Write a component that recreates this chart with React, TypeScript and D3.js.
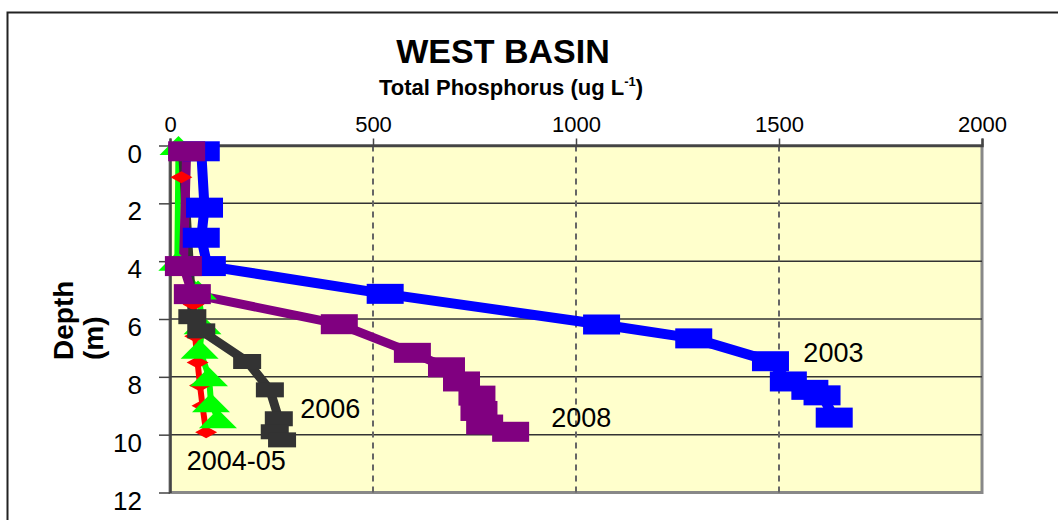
import React, { useEffect, useRef } from 'react';
import * as d3 from 'd3';

// depth (m) and total phosphorus (ug/L)
const depth2004 = [1.1, 5.5, 6.6, 7.5, 8.3, 9.0, 9.92];
const tp2004 = [28, 58, 62, 68, 74, 80, 89];

const depth2005 = [0.0, 4.0, 5.0, 6.2, 7.05, 8.0, 8.9, 9.45];
const tp2005 = [21, 18, 69, 80, 73, 96, 101, 118];

const depth2006 = [0.2, 5.92, 6.41, 7.47, 8.45, 9.45, 9.9, 10.18];
const tp2006 = [31, 55, 77, 190, 246, 268, 258, 276];

const depth2003 = [0.2, 2.15, 3.19, 4.17, 5.13, 6.19, 6.67, 7.46, 8.16, 8.45, 8.64, 9.41];
const tp2003 = [77, 85, 77, 92, 530, 1063, 1290, 1479, 1523, 1576, 1606, 1636];

const depth2008 = [0.2, 4.17, 5.14, 6.18, 7.17, 7.67, 8.16, 8.65, 9.18, 9.65, 9.9];
const tp2008 = [41, 33, 55, 417, 597, 681, 718, 756, 761, 775, 839];

const xTicks = [0, 500, 1000, 1500, 2000];
const yTicks = [0, 2, 4, 6, 8, 10, 12];

const labelText = ['2003', '2008', '2006', '2004-05'];
const labelTp = [1560, 939, 321, 41];
const labelDepth = [7.49, 9.73, 9.42, 11.22];

const FONT = "Arial, 'Liberation Sans', sans-serif";

export default function App() {
  const ref = useRef(null);

  useEffect(() => {
    const svg = d3.select(ref.current);
    svg.selectAll('*').remove();

    const left = 170, right = 982, top = 145.5, bottom = 492.5;

    const x = d3.scaleLinear().domain([0, 2000]).range([left, right]);
    const y = d3.scaleLinear().domain([0, 12]).range([top, bottom]);

    // outer chart frame (runs off the right and bottom of the picture)
    svg.append('rect')
      .attr('x', 7.5).attr('y', 12.5)
      .attr('width', 1100).attr('height', 600)
      .attr('fill', 'white').attr('stroke', '#222').attr('stroke-width', 2);

    // title
    svg.append('text')
      .attr('x', 503).attr('y', 63)
      .attr('text-anchor', 'middle')
      .attr('font-family', FONT).attr('font-weight', 'bold').attr('font-size', 34)
      .text('WEST BASIN');

    const sub = svg.append('text')
      .attr('x', 511).attr('y', 95)
      .attr('text-anchor', 'middle')
      .attr('font-family', FONT).attr('font-weight', 'bold').attr('font-size', 22);
    sub.append('tspan').text('Total Phosphorus (ug L');
    sub.append('tspan').attr('dy', -9).attr('font-size', 13).text('-1');
    sub.append('tspan').attr('dy', 9).text(')');

    // plot area
    svg.append('rect')
      .attr('x', left).attr('y', top)
      .attr('width', right - left).attr('height', bottom - top)
      .attr('fill', '#FFFFCC').attr('stroke', '#888').attr('stroke-width', 3);

    // horizontal grid
    svg.append('g').selectAll('line')
      .data(yTicks.filter(d => d > 0 && d < 12))
      .join('line')
      .attr('x1', left).attr('x2', right)
      .attr('y1', d => y(d)).attr('y2', d => y(d))
      .attr('stroke', '#333').attr('stroke-width', 1.5);

    // vertical dashed grid
    svg.append('g').selectAll('line')
      .data(xTicks.filter(d => d > 0 && d < 2000))
      .join('line')
      .attr('x1', d => x(d)).attr('x2', d => x(d))
      .attr('y1', top).attr('y2', bottom)
      .attr('stroke', '#666').attr('stroke-width', 2)
      .attr('stroke-dasharray', '6,5');

    // top axis
    const xAxis = svg.append('g')
      .attr('transform', `translate(0,${top})`)
      .call(d3.axisTop(x).tickValues(xTicks).tickFormat(d3.format('d')).tickSize(7).tickPadding(7));
    xAxis.select('.domain').attr('stroke', '#444').attr('stroke-width', 2.5);
    xAxis.selectAll('.tick line').attr('stroke', '#444').attr('stroke-width', 1.5);
    xAxis.selectAll('text')
      .attr('font-family', FONT).attr('font-size', 22).attr('fill', '#000');

    // left axis
    const yAxis = svg.append('g')
      .attr('transform', `translate(${left},0)`)
      .call(d3.axisLeft(y).tickValues(yTicks).tickSize(11).tickSizeOuter(0));
    yAxis.select('.domain').attr('stroke', '#444').attr('stroke-width', 2.5);
    yAxis.selectAll('.tick line').attr('stroke', '#444').attr('stroke-width', 1.5);
    yAxis.selectAll('text')
      .attr('x', -28).attr('dy', 16.5)
      .attr('font-family', FONT).attr('font-size', 26).attr('fill', '#000');

    // axis title
    const yt = svg.append('text')
      .attr('font-family', FONT).attr('font-weight', 'bold').attr('font-size', 28)
      .attr('text-anchor', 'start');
    yt.append('tspan').attr('x', 0).attr('y', 0).text('Depth');
    yt.append('tspan').attr('x', 0).attr('y', 0).attr('dy', 30).text('(m)');
    yt.attr('transform', 'translate(73,360) rotate(-90)');

    const series = [
      { tp: tp2004, depth: depth2004, color: '#FF0000', width: 6, shape: 'diamond', w: 22, h: 12 },
      { tp: tp2005, depth: depth2005, color: '#00FF00', width: 6, shape: 'triangle', w: 38, h: 19 },
      { tp: tp2006, depth: depth2006, color: '#333333', width: 9, shape: 'rect', w: 28, h: 15 },
      { tp: tp2003, depth: depth2003, color: '#0000FF', width: 10, shape: 'rect', w: 37, h: 20 },
      { tp: tp2008, depth: depth2008, color: '#800080', width: 9, shape: 'rect', w: 37, h: 20 },
    ];

    const line = d3.line().x(d => x(d[0])).y(d => y(d[1]));

    // all lines first, then markers on top
    series.forEach(s => {
      const pts = s.tp.map((v, i) => [v, s.depth[i]]);
      svg.append('path')
        .datum(pts)
        .attr('fill', 'none')
        .attr('stroke', s.color)
        .attr('stroke-width', s.width)
        .attr('stroke-linejoin', 'round')
        .attr('d', line);
    });

    series.forEach(s => {
      const pts = s.tp.map((v, i) => [v, s.depth[i]]);
      const g = svg.append('g');
      if (s.shape === 'rect') {
        g.selectAll('rect').data(pts).join('rect')
          .attr('x', d => x(d[0]) - s.w / 2).attr('y', d => y(d[1]) - s.h / 2)
          .attr('width', s.w).attr('height', s.h)
          .attr('fill', s.color);
      } else if (s.shape === 'triangle') {
        g.selectAll('path').data(pts).join('path')
          .attr('d', d => {
            const cx = x(d[0]), cy = y(d[1]);
            return `M${cx},${cy - s.h / 2}L${cx + s.w / 2},${cy + s.h / 2}L${cx - s.w / 2},${cy + s.h / 2}Z`;
          })
          .attr('fill', s.color);
      } else {
        g.selectAll('path').data(pts).join('path')
          .attr('d', d => {
            const cx = x(d[0]), cy = y(d[1]);
            return `M${cx},${cy - s.h / 2}L${cx + s.w / 2},${cy}L${cx},${cy + s.h / 2}L${cx - s.w / 2},${cy}Z`;
          })
          .attr('fill', s.color);
      }
    });

    // year labels
    svg.append('g').selectAll('text')
      .data(labelText)
      .join('text')
      .attr('x', (d, i) => x(labelTp[i]))
      .attr('y', (d, i) => y(labelDepth[i]))
      .attr('font-family', FONT).attr('font-size', 27)
      .text(d => d);
  }, []);

  return (
    <svg ref={ref} width={1058} height={520}
      style={{ position: 'absolute', left: 0, top: 0, background: 'white' }} />
  );
}
